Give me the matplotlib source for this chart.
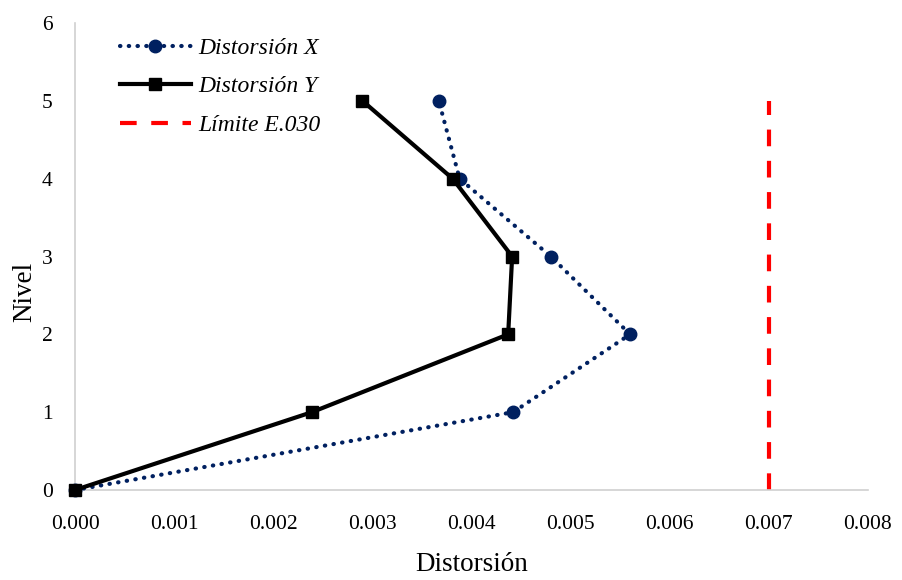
import matplotlib
matplotlib.use("Agg")
import matplotlib.pyplot as plt

plt.rcParams["font.family"] = ["Liberation Serif", "DejaVu Serif"]

# ── data ──────────────────────────────────────────────
niveles = [0, 1, 2, 3, 4, 5]
dist_x = [0.0, 0.00442, 0.00560, 0.00480, 0.00388, 0.00367]
dist_y = [0.0, 0.00239, 0.00437, 0.00441, 0.00381, 0.00290]
limite_x = [0.007, 0.007]
limite_y = [0, 5]

xticks = [0.000, 0.001, 0.002, 0.003, 0.004, 0.005, 0.006, 0.007, 0.008]
yticks = [0, 1, 2, 3, 4, 5, 6]

fig = plt.figure(figsize=(9.03, 5.80), dpi=100)
ax = fig.add_axes([75 / 903, 1 - 490 / 580, (868 - 75) / 903, (490 - 23) / 580])

ax.plot(dist_x, niveles, color="#002060", lw=3, linestyle=(0, (0.1, 2.0)),
        dash_capstyle="round", marker="o", markersize=9, label="Distorsión X",
        zorder=3, clip_on=False)
ax.plot(dist_y, niveles, color="black", lw=3, marker="s", markersize=9,
        label="Distorsión Y", zorder=4, clip_on=False)
ax.plot(limite_x, limite_y, color="#ff0000", lw=3, linestyle=(0, (4, 3.5)),
        label="Límite E.030", zorder=2)

ax.set_xlim(0, 0.008)
ax.set_ylim(0, 6)
ax.set_xticks(xticks)
ax.set_xticklabels([f"{v:.3f}" for v in xticks])
ax.set_yticks(yticks)
ax.tick_params(axis="both", length=0, labelsize=15.5)
ax.tick_params(axis="x", pad=18)
ax.tick_params(axis="y", pad=16)

for s in ["top", "right"]:
    ax.spines[s].set_visible(False)
for s in ["left", "bottom"]:
    ax.spines[s].set_color("#d0d0d0")
    ax.spines[s].set_linewidth(1.2)

ax.set_xlabel("Distorsión", fontsize=19.5)
ax.xaxis.set_label_coords(0.5, -0.133)
ax.set_ylabel("Nivel", fontsize=19.5)
ax.yaxis.set_label_coords(-0.048, 0.424)

leg = ax.legend(loc="upper left", bbox_to_anchor=(0.03, 1.015), frameon=False,
                prop={"family": "Liberation Serif", "style": "italic", "size": 17},
                handlelength=3.0, labelspacing=0.72, handletextpad=0.3)

plt.savefig("out.png", dpi=100)
plt.close()
